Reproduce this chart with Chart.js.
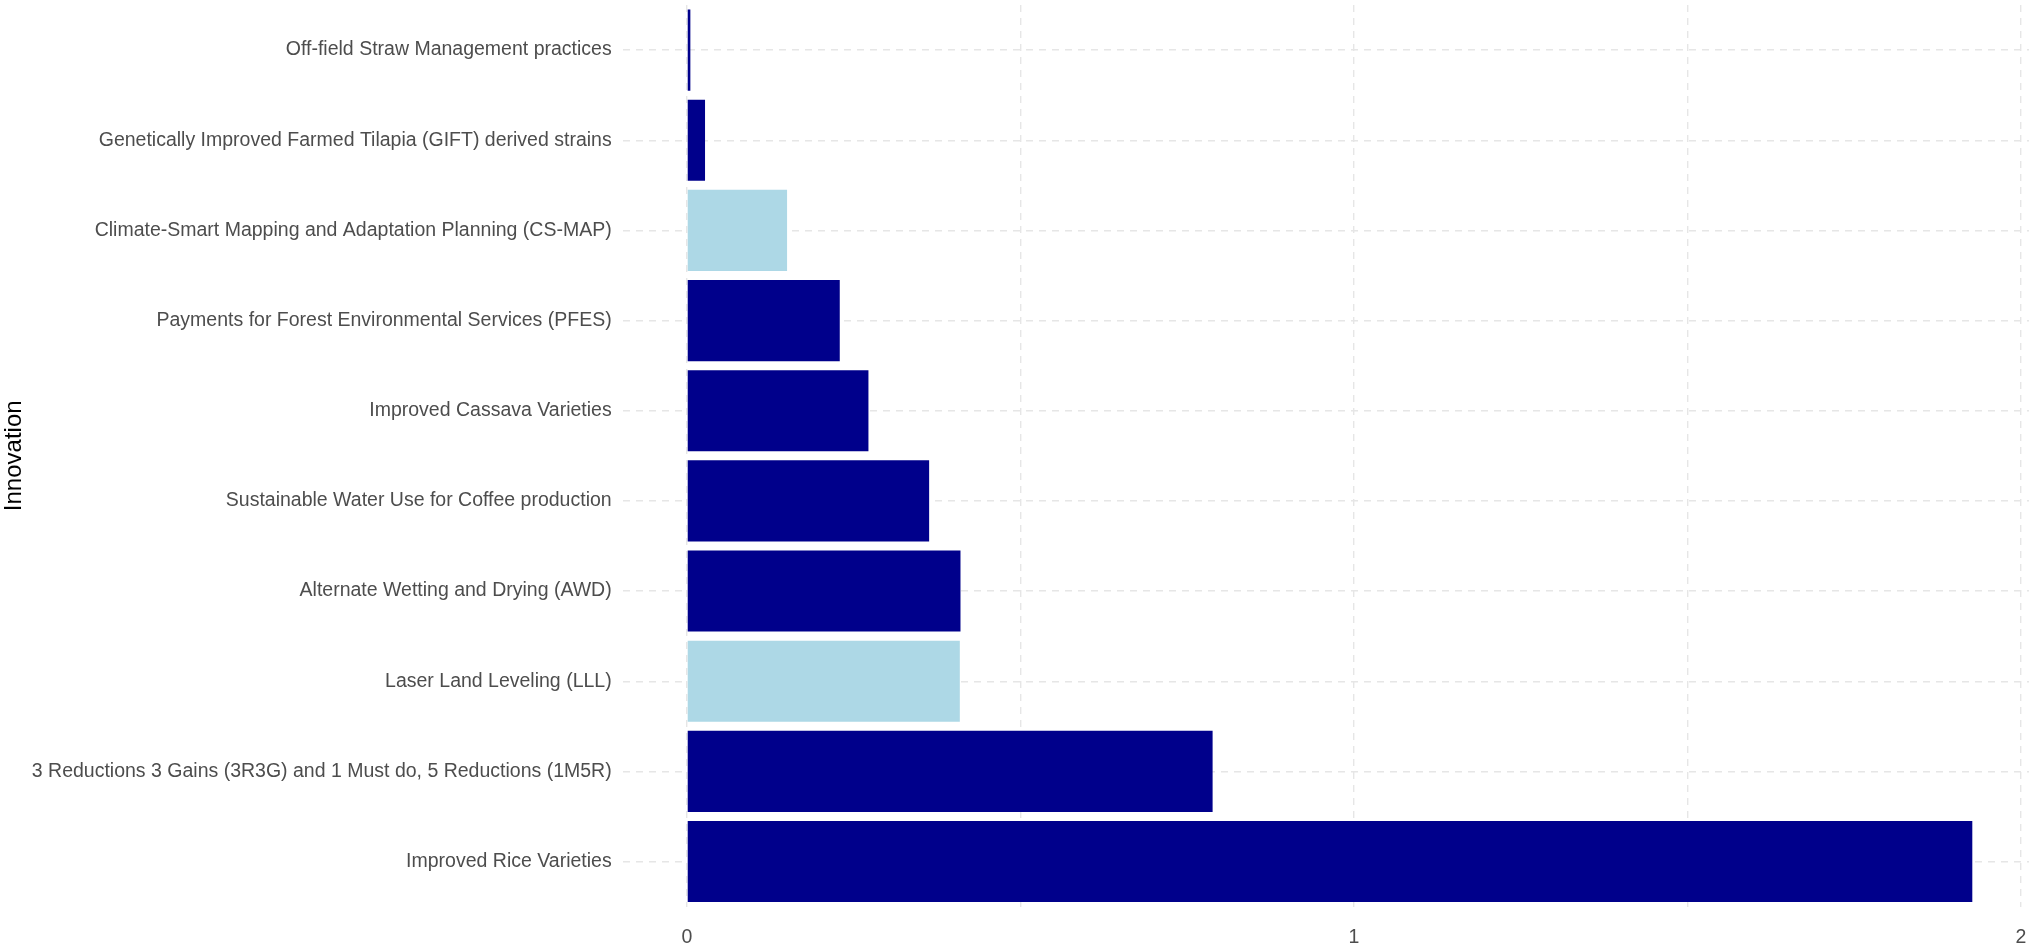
<!DOCTYPE html>
<html>
<head>
<meta charset="utf-8">
<script src="https://cdn.jsdelivr.net/npm/chart.js@4"></script>
<style>
    html, body { margin: 0; padding: 0; background: #fff; }
    #wrap { width: 2029px; height: 951px; position: relative; }
</style>
</head>
<body>
<div id="wrap"><canvas id="innovationChart"></canvas></div>
<script>
    "use strict";

    // Innovations, top to bottom
    const innovations = [
        'Off-field Straw Management practices',
        'Genetically Improved Farmed Tilapia (GIFT) derived strains',
        'Climate-Smart Mapping and Adaptation Planning (CS-MAP)',
        'Payments for Forest Environmental Services (PFES)',
        'Improved Cassava Varieties',
        'Sustainable Water Use for Coffee production',
        'Alternate Wetting and Drying (AWD)',
        'Laser Land Leveling (LLL)',
        '3 Reductions 3 Gains (3R3G) and 1 Must do, 5 Reductions (1M5R)',
        'Improved Rice Varieties'
    ];
    const values = [0.005, 0.027, 0.15, 0.229, 0.272, 0.363, 0.41, 0.409, 0.788, 1.927];
    const highlighted = [false, false, true, false, false, false, false, true, false, false];
    const xTicks = [0, 0.5, 1, 1.5, 2];
    const xTickLabels = { 0: '0', 1: '1', 2: '2' };

    const darkBlue = '#00008B';
    const lightBlue = '#ADD8E6';
    const gridColor = '#E6E6E6';

    Chart.defaults.font.family = "'Liberation Sans', Arial, sans-serif";
    Chart.defaults.color = '#4D4D4D';

    // no extra room for half labels at the ends of the axes
    const noEndPadding = function (scale) {
        scale.paddingTop = 0;
        scale.paddingBottom = 0;
        scale.paddingLeft = 0;
        scale.paddingRight = 0;
    };

    const ctx = document.getElementById('innovationChart');
    const myChart = new Chart(ctx, {
        type: 'bar',
        data: {
            labels: innovations,
            datasets: [{
                data: values,
                backgroundColor: highlighted.map(function (h) { return h ? lightBlue : darkBlue; }),
                borderWidth: 0,
                categoryPercentage: 1.0,
                barPercentage: 0.9
            }]
        },
        options: {
            indexAxis: 'y',
            responsive: true,
            maintainAspectRatio: false,
            devicePixelRatio: 1,
            animation: false,
            layout: { padding: { left: 0, right: 0, top: 5, bottom: -17 } },
            plugins: {
                legend: { display: false },
                tooltip: { enabled: false }
            },
            scales: {
                x: {
                    type: 'linear',
                    min: -0.0965,
                    max: 2.012,
                    afterBuildTicks: function (axis) {
                        axis.ticks = xTicks.map(function (v) { return { value: v }; });
                    },
                    afterFit: noEndPadding,
                    ticks: {
                        autoSkip: false,
                        maxRotation: 0,
                        padding: 19,
                        font: { size: 19.5 },
                        callback: function (v) { return xTickLabels[v] !== undefined ? xTickLabels[v] : ''; }
                    },
                    grid: { color: gridColor, lineWidth: 1.4, drawTicks: false },
                    border: { display: false, dash: [7, 6] }
                },
                y: {
                    offset: true,
                    afterFit: noEndPadding,
                    ticks: {
                        autoSkip: false,
                        padding: 11,
                        font: { size: 19.5 }
                    },
                    grid: { color: gridColor, lineWidth: 1.4, drawTicks: false, offset: false },
                    border: { display: false, dash: [7, 6] },
                    title: {
                        display: true,
                        text: 'Innovation',
                        color: '#000000',
                        font: { size: 24 },
                        padding: { top: 0, bottom: -8 }
                    }
                }
            }
        }
    });
</script>
</body>
</html>
